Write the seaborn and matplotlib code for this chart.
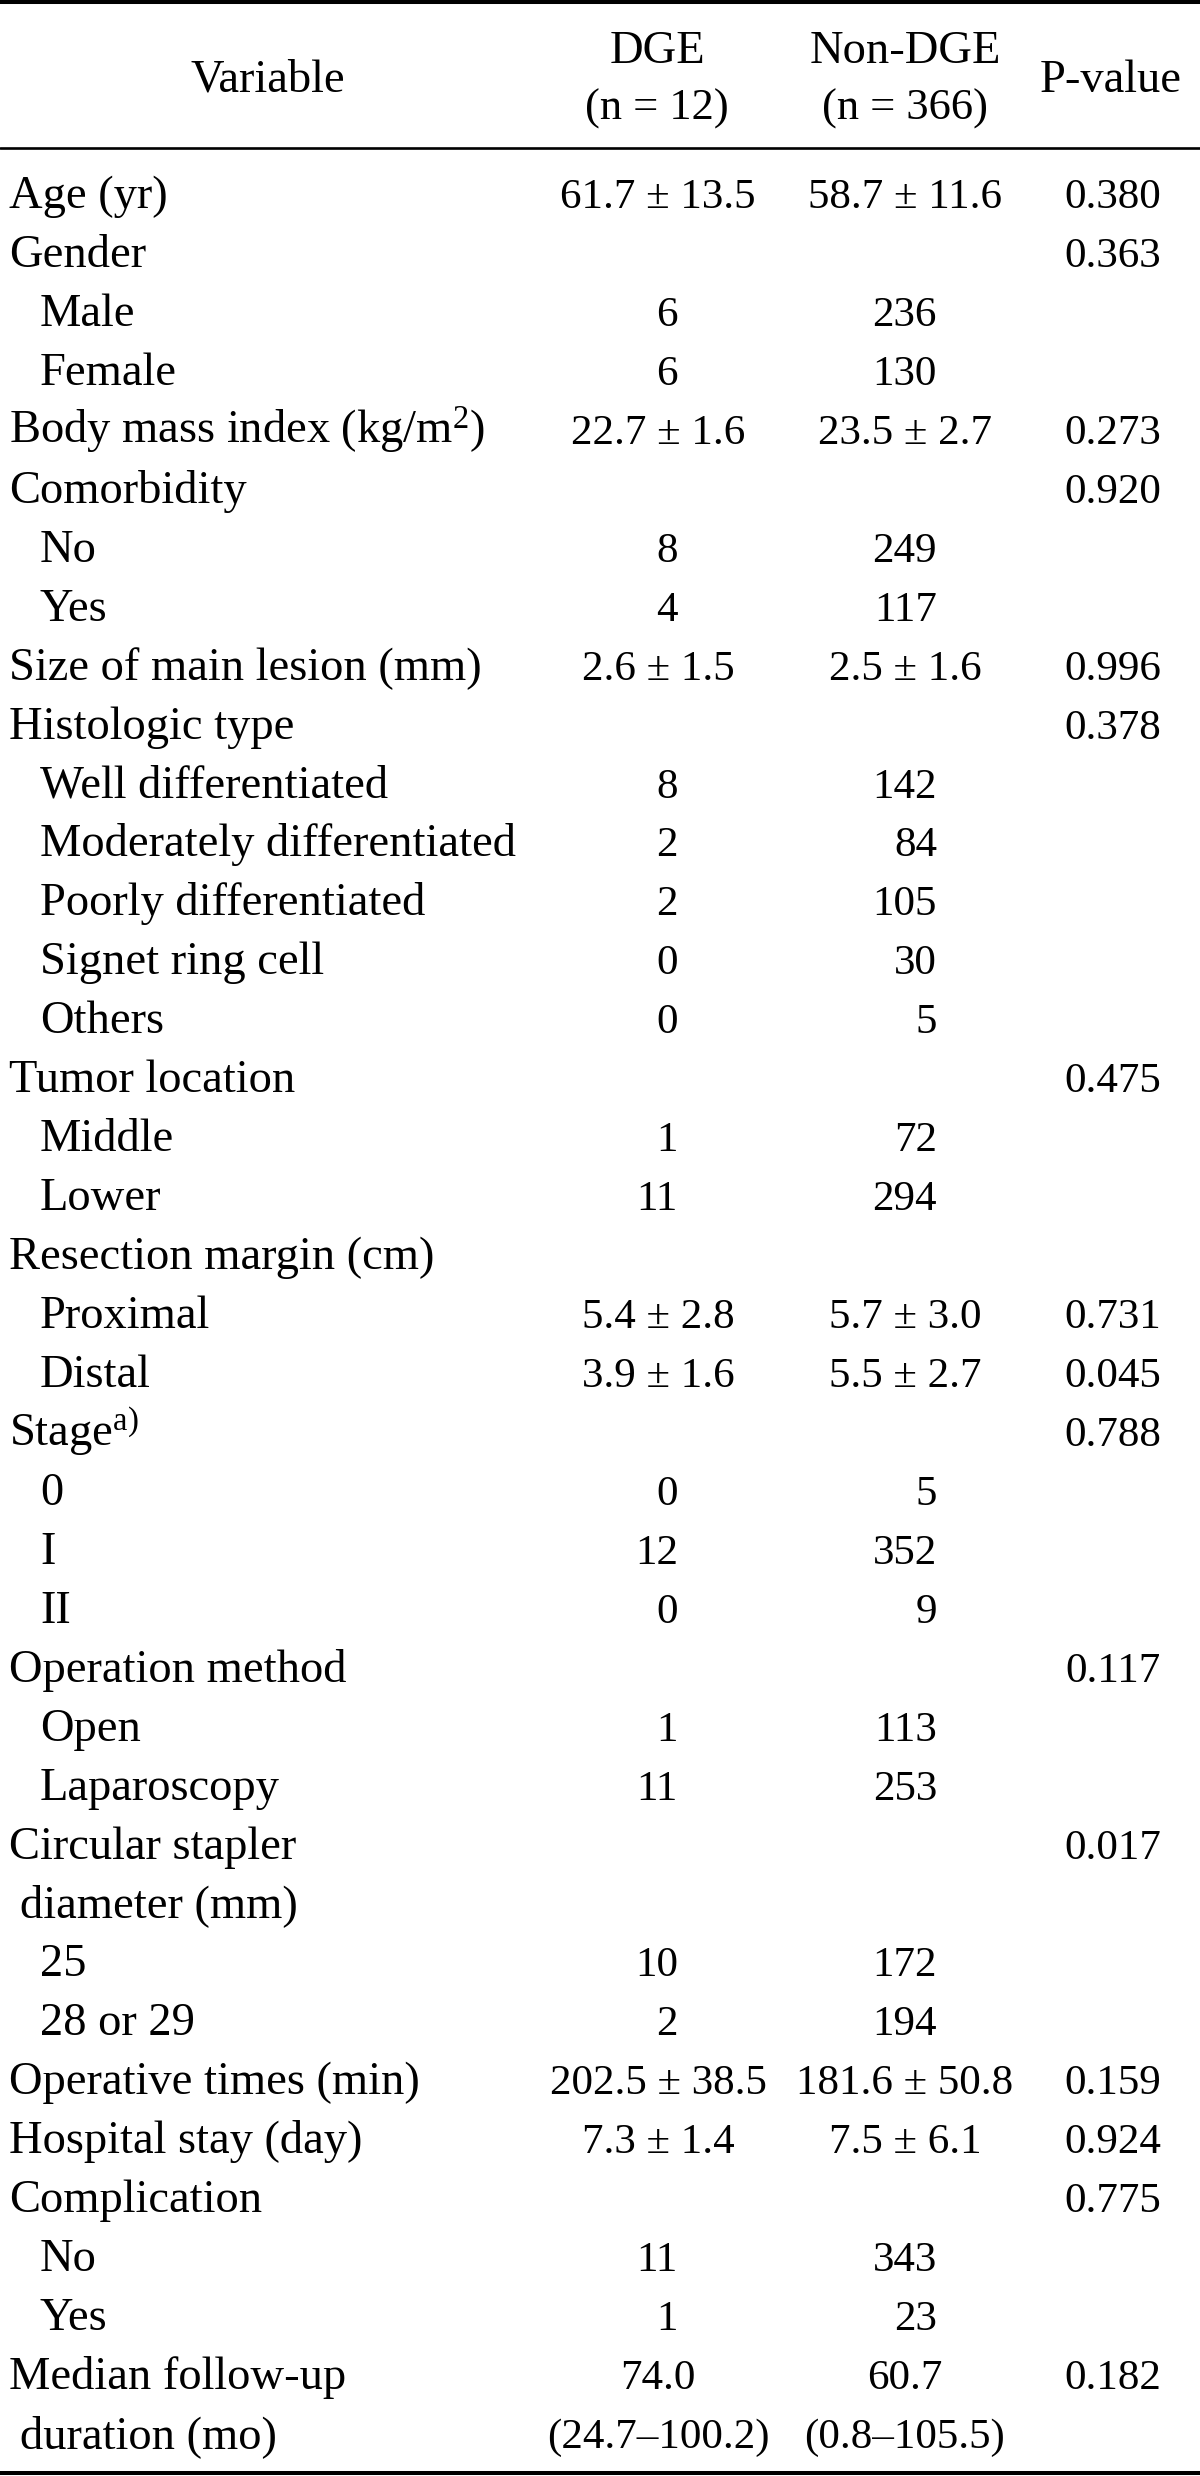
import matplotlib
matplotlib.use("Agg")
import matplotlib.pyplot as plt
import seaborn as sns

sns.set_theme(style="white")
plt.rcParams['font.family'] = ['Liberation Serif', 'DejaVu Serif']
plt.rcParams['mathtext.fontset'] = 'custom'
plt.rcParams['mathtext.rm'] = 'Liberation Serif'
plt.rcParams['mathtext.it'] = 'Liberation Serif:italic'

# Table content
headers = ["Variable", "DGE\n(n = 12)", "Non-DGE\n(n = 366)", "P-value"]

variables = [
    "Age (yr)", "Gender", "Male", "Female", "Body mass index (kg/m$^\\mathrm{2}$)",
    "Comorbidity", "No", "Yes", "Size of main lesion (mm)", "Histologic type",
    "Well differentiated", "Moderately differentiated", "Poorly differentiated",
    "Signet ring cell", "Others", "Tumor location", "Middle", "Lower",
    "Resection margin (cm)", "Proximal", "Distal", "Stage$^\\mathrm{a)}$", "0", "I", "II",
    "Operation method", "Open", "Laparoscopy", "Circular stapler", "diameter (mm)",
    "25", "28 or 29", "Operative times (min)", "Hospital stay (day)", "Complication",
    "No", "Yes", "Median follow-up", "duration (mo)",
]
# 0 = main row, 1 = sub row, 0.5 = continuation line
indent = [0, 0, 1, 1, 0, 0, 1, 1, 0, 0, 1, 1, 1, 1, 1, 0, 1, 1, 0, 1, 1, 0, 1, 1, 1,
          0, 1, 1, 0, 0.5, 1, 1, 0, 0, 0, 1, 1, 0, 0.5]
dge = [
    "61.7 ± 13.5", "", "6", "6", "22.7 ± 1.6", "", "8", "4", "2.6 ± 1.5", "",
    "8", "2", "2", "0", "0", "", "1", "11", "", "5.4 ± 2.8", "3.9 ± 1.6", "",
    "0", "12", "0", "", "1", "11", "", "", "10", "2", "202.5 ± 38.5", "7.3 ± 1.4",
    "", "11", "1", "74.0", "(24.7–100.2)",
]
non_dge = [
    "58.7 ± 11.6", "", "236", "130", "23.5 ± 2.7", "", "249", "117", "2.5 ± 1.6", "",
    "142", "84", "105", "30", "5", "", "72", "294", "", "5.7 ± 3.0", "5.5 ± 2.7", "",
    "5", "352", "9", "", "113", "253", "", "", "172", "194", "181.6 ± 50.8", "7.5 ± 6.1",
    "", "343", "23", "60.7", "(0.8–105.5)",
]
p_values = [
    "0.380", "0.363", "", "", "0.273", "0.920", "", "", "0.996", "0.378",
    "", "", "", "", "", "0.475", "", "", "", "0.731", "0.045", "0.788",
    "", "", "", "0.117", "", "", "0.017", "", "", "", "0.159", "0.924",
    "0.775", "", "", "0.182", "",
]

W, H = 1200, 2476
fig = plt.figure(figsize=(W / 100, H / 100), dpi=100)
ax = fig.add_axes([0, 0, 1, 1])
ax.set_xlim(0, W)
ax.set_ylim(H, 0)
ax.axis("off")

lab_txt = dict(fontsize=33.5, color="black")
num_txt = dict(fontsize=31, color="black")

# rules
ax.axhline(2, color="black", lw=2.9)
ax.axhline(148, color="black", lw=1.9)
ax.axhline(2473, color="black", lw=2.9)

# header
ax.text(268, 92, headers[0], ha="center", va="baseline", **lab_txt)
for xc, h in [(657, headers[1]), (905, headers[2])]:
    top, bottom = h.split("\n")
    ax.text(xc, 63, top, ha="center", va="baseline", **lab_txt)
    ax.text(xc, 120, bottom, ha="center", va="baseline", fontsize=32, color="black")
ax.text(1111, 92, headers[3], ha="center", va="baseline", **lab_txt)

x_ind = {0: 9, 0.5: 20, 1: 40}
for i, lab in enumerate(variables):
    y = 208 + 58.95 * i
    ax.text(x_ind[indent[i]], y, lab, ha="left", va="baseline", **lab_txt)
    for val, xc, xr in [(dge[i], 658, 678), (non_dge[i], 905, 937)]:
        if not val:
            continue
        if val.isdigit():
            ax.text(xr, y, val, ha="right", va="baseline", **num_txt)
        else:
            ax.text(xc, y, val, ha="center", va="baseline", **num_txt)
    if p_values[i]:
        ax.text(1113, y, p_values[i], ha="center", va="baseline", **num_txt)

fig.savefig("out.png", dpi=100, facecolor="white")
plt.close(fig)
